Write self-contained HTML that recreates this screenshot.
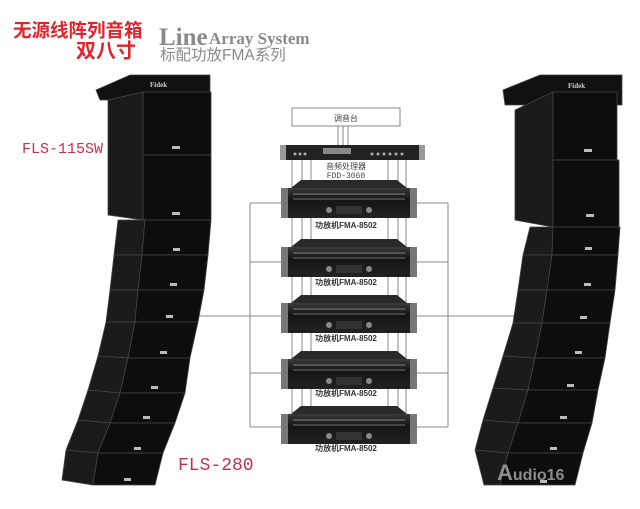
<!DOCTYPE html>
<html><head><meta charset="utf-8"><style>
html,body{margin:0;padding:0;background:#fff;}
svg{display:block;}
</style></head><body>
<svg width="640" height="509" viewBox="0 0 640 509" xmlns="http://www.w3.org/2000/svg">
<defs>
<linearGradient id="amp" x1="0" y1="0" x2="0" y2="1"><stop offset="0" stop-color="#3a3a3a"/><stop offset="0.4" stop-color="#151515"/><stop offset="1" stop-color="#222"/></linearGradient>
<g id="ampU">
 <polygon points="10,4 20,-4 116,-4 126,4" fill="#2a2a2a"/>
 <rect x="0" y="4" width="136" height="30" fill="url(#amp)"/>
 <rect x="0" y="4" width="7" height="30" fill="#777"/>
 <rect x="129" y="4" width="7" height="30" fill="#777"/>
 <rect x="12" y="9" width="112" height="2" fill="#555"/>
 <rect x="12" y="14" width="112" height="2" fill="#444"/>
 <rect x="55" y="22" width="26" height="8" fill="#333"/>
 <circle cx="48" cy="26" r="3" fill="#888"/><circle cx="88" cy="26" r="3" fill="#888"/>
</g>
</defs>

<!-- header -->
<text x="13" y="37" font-family="'Liberation Sans','Noto Sans CJK SC',sans-serif" font-weight="bold" font-size="18.5" fill="#e0242c">无源线阵列音箱</text>
<text x="76" y="57.5" font-family="'Liberation Sans','Noto Sans CJK SC',sans-serif" font-weight="bold" font-size="20" fill="#e0242c">双八寸</text>
<text x="159" y="45" font-family="'Liberation Serif',serif" font-weight="bold" font-size="25" fill="#8a8a8a">Line</text>
<text x="209" y="44" font-family="'Liberation Serif',serif" font-weight="bold" font-size="17" fill="#8a8a8a">Array System</text>
<text x="160" y="60" font-family="'Liberation Sans','Noto Sans CJK SC',sans-serif" font-size="15.5" fill="#8a8a8a">标配功放FMA系列</text>

<text x="22" y="153" font-family="'Liberation Mono',monospace" font-size="15" fill="#c03050">FLS-115SW</text>
<text x="178" y="470" font-family="'Liberation Mono',monospace" font-size="18" fill="#c03050">FLS-280</text>

<!-- wiring -->
<g stroke="#888" stroke-width="1" fill="none">
 <rect x="292" y="108" width="108" height="18"/>
 <line x1="338" y1="126" x2="338" y2="145"/><line x1="343" y1="126" x2="343" y2="145"/><line x1="348" y1="126" x2="348" y2="145"/>
 <line x1="292" y1="160" x2="292" y2="425"/><line x1="302" y1="160" x2="302" y2="425"/><line x1="311" y1="160" x2="311" y2="425"/>
 <line x1="388" y1="160" x2="388" y2="425"/><line x1="398" y1="160" x2="398" y2="425"/><line x1="406" y1="160" x2="406" y2="425"/>
 <line x1="250" y1="203" x2="250" y2="427"/><line x1="448" y1="203" x2="448" y2="427"/>
 <line x1="250" y1="203" x2="281" y2="203"/><line x1="417" y1="203" x2="448" y2="203"/>
 <line x1="250" y1="262" x2="281" y2="262"/><line x1="417" y1="262" x2="448" y2="262"/>
 <line x1="195" y1="316" x2="281" y2="316"/><line x1="417" y1="316" x2="522" y2="316"/>
 <line x1="250" y1="373" x2="281" y2="373"/><line x1="417" y1="373" x2="448" y2="373"/>
 <line x1="250" y1="427" x2="281" y2="427"/><line x1="417" y1="427" x2="448" y2="427"/>
</g>
<text x="346" y="121" text-anchor="middle" font-family="'Liberation Sans','Noto Sans CJK SC',sans-serif" font-size="8" fill="#444">调音台</text>

<!-- processor -->
<rect x="280" y="145" width="145" height="15" fill="#222"/>
<rect x="280" y="145" width="6" height="15" fill="#999"/><rect x="419" y="145" width="6" height="15" fill="#999"/>
<rect x="323" y="148" width="28" height="6" fill="#888"/>
<g fill="#aaa"><circle cx="295" cy="154" r="1.5"/><circle cx="300" cy="154" r="1.5"/><circle cx="305" cy="154" r="1.5"/><circle cx="372" cy="154" r="1.5"/><circle cx="378" cy="154" r="1.5"/><circle cx="384" cy="154" r="1.5"/><circle cx="390" cy="154" r="1.5"/><circle cx="396" cy="154" r="1.5"/><circle cx="402" cy="154" r="1.5"/></g>
<text x="346" y="169" text-anchor="middle" font-family="'Liberation Sans','Noto Sans CJK SC',sans-serif" font-size="8" fill="#444">音频处理器</text>
<text x="346" y="178" text-anchor="middle" font-family="'Liberation Mono',monospace" font-size="8" fill="#444">FDD-3060</text>

<!-- amps -->
<g font-family="'Liberation Sans','Noto Sans CJK SC',sans-serif" font-size="8" font-weight="bold" fill="#333" text-anchor="middle">
<use href="#ampU" x="281" y="184"/><text x="346" y="228">功放机FMA-8502</text>
<use href="#ampU" x="281" y="243"/><text x="346" y="285">功放机FMA-8502</text>
<use href="#ampU" x="281" y="299"/><text x="346" y="341">功放机FMA-8502</text>
<use href="#ampU" x="281" y="355"/><text x="346" y="396">功放机FMA-8502</text>
<use href="#ampU" x="281" y="410"/><text x="346" y="451">功放机FMA-8502</text>
</g>

<!-- left speaker stack -->
<g stroke="#444" stroke-width="0.8">
 <polygon points="96,90 130,75 210,75 210,100 100,100" fill="#111"/>
 <polygon points="108,100 143,92 143,220 108,215" fill="#1b1b1b"/>
 <rect x="143" y="92" width="68" height="63" fill="#0d0d0d"/>
 <rect x="143" y="155" width="68" height="65" fill="#0d0d0d"/>
 <polygon points="118,220 145,220 142,255 114,255" fill="#1b1b1b"/><polygon points="145,220 211,220 208,255 142,255" fill="#0d0d0d"/>
 <polygon points="114,255 142,255 138,290 110,290" fill="#1b1b1b"/><polygon points="142,255 208,255 204,290 138,290" fill="#0d0d0d"/>
 <polygon points="110,290 138,290 135,322 106,322" fill="#1b1b1b"/><polygon points="138,290 204,290 198,322 135,322" fill="#0d0d0d"/>
 <polygon points="106,322 135,322 128,358 98,356" fill="#1b1b1b"/><polygon points="135,322 198,322 190,358 128,358" fill="#0d0d0d"/>
 <polygon points="98,356 128,358 120,393 88,390" fill="#1b1b1b"/><polygon points="128,358 190,358 185,393 120,393" fill="#0d0d0d"/>
 <polygon points="88,390 120,393 110,423 78,420" fill="#1b1b1b"/><polygon points="120,393 185,393 175,423 110,423" fill="#0d0d0d"/>
 <polygon points="78,420 110,423 98,453 66,450" fill="#1b1b1b"/><polygon points="110,423 175,423 163,453 98,453" fill="#0d0d0d"/>
 <polygon points="66,450 98,453 93,485 62,480" fill="#1b1b1b"/><polygon points="98,453 163,453 155,485 93,485" fill="#0d0d0d"/>
</g>
<g fill="#bbb"><rect x="172" y="146" width="8" height="3"/><rect x="172" y="212" width="8" height="3"/><rect x="173" y="248" width="7" height="3"/><rect x="170" y="283" width="7" height="3"/><rect x="166" y="315" width="7" height="3"/><rect x="160" y="351" width="7" height="3"/><rect x="151" y="386" width="7" height="3"/><rect x="143" y="416" width="7" height="3"/><rect x="134" y="447" width="7" height="3"/><rect x="124" y="478" width="7" height="3"/></g>
<text x="150" y="87" font-family="'Liberation Serif',serif" font-weight="bold" font-size="7" fill="#ccc">Fidek</text>

<!-- right speaker stack -->
<g stroke="#444" stroke-width="0.8">
 <polygon points="503,90 540,75 622,75 622,105 505,105" fill="#111"/>
 <polygon points="515,110 553,92 553,227 515,220" fill="#1b1b1b"/>
 <rect x="553" y="92" width="64" height="68" fill="#0d0d0d"/>
 <rect x="553" y="160" width="66" height="67" fill="#0d0d0d"/>
 <polygon points="530,227 553,227 552,255 523,255" fill="#1b1b1b"/><polygon points="553,227 620,227 618,255 552,255" fill="#0d0d0d"/>
 <polygon points="523,255 552,255 547,290 518,290" fill="#1b1b1b"/><polygon points="552,255 618,255 615,290 547,290" fill="#0d0d0d"/>
 <polygon points="518,290 547,290 542,323 513,323" fill="#1b1b1b"/><polygon points="547,290 615,290 610,323 542,323" fill="#0d0d0d"/>
 <polygon points="513,323 542,323 535,358 503,356" fill="#1b1b1b"/><polygon points="542,323 610,323 605,358 535,358" fill="#0d0d0d"/>
 <polygon points="503,356 535,358 528,390 493,388" fill="#1b1b1b"/><polygon points="535,358 605,358 598,390 528,390" fill="#0d0d0d"/>
 <polygon points="493,388 528,390 518,423 483,420" fill="#1b1b1b"/><polygon points="528,390 598,390 592,423 518,423" fill="#0d0d0d"/>
 <polygon points="483,420 518,423 508,453 475,450" fill="#1b1b1b"/><polygon points="518,423 592,423 583,453 508,453" fill="#0d0d0d"/>
 <polygon points="475,450 508,453 500,485 484,485" fill="#1b1b1b"/><polygon points="508,453 583,453 575,485 500,485" fill="#0d0d0d"/>
</g>
<g fill="#bbb"><rect x="584" y="149" width="8" height="3"/><rect x="586" y="214" width="8" height="3"/><rect x="585" y="247" width="7" height="3"/><rect x="584" y="283" width="7" height="3"/><rect x="580" y="316" width="7" height="3"/><rect x="575" y="351" width="7" height="3"/><rect x="567" y="384" width="7" height="3"/><rect x="560" y="416" width="7" height="3"/><rect x="550" y="447" width="7" height="3"/><rect x="540" y="480" width="7" height="3"/></g>
<text x="568" y="88" font-family="'Liberation Serif',serif" font-weight="bold" font-size="7" fill="#ccc">Fidek</text>
<text x="497" y="480" font-family="'Liberation Sans',sans-serif" font-weight="bold" font-size="16" fill="#9a9a9a" opacity="0.9"><tspan font-size="22">A</tspan>udio16</text>
</svg>
</body></html>
